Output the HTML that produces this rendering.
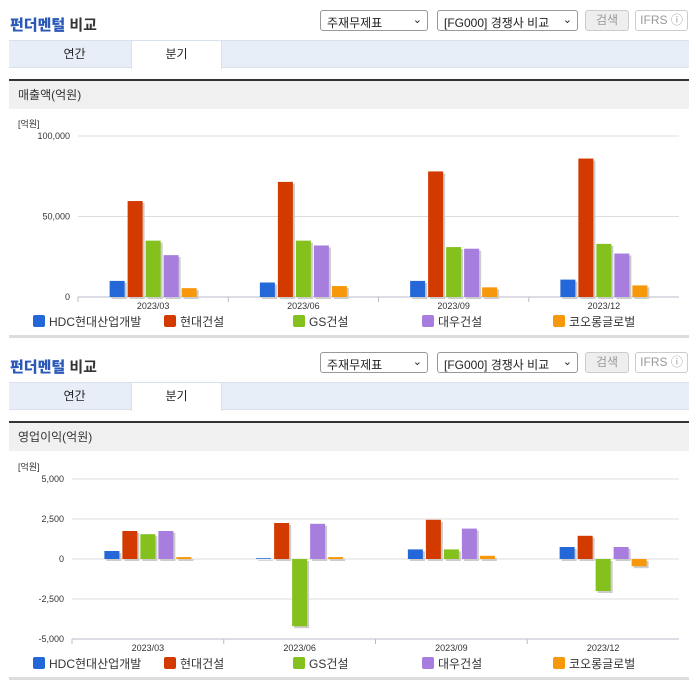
<!DOCTYPE html>
<html><head><meta charset="utf-8">
<style>
body{margin:0;width:696px;height:684px;background:#fff;font-family:"Liberation Sans","Noto Sans CJK KR",sans-serif;overflow:hidden;position:relative}
.abs{position:absolute}
.title{font-size:15px;font-weight:bold;color:#333}
.title b{color:#2a59b8}
.sel{border:1px solid #999;border-radius:3px;height:21px;font-size:12px;color:#222;box-sizing:border-box;padding:3px 6px;background:#fff}
.sel span{position:absolute;right:5px;top:2px;font-size:11px}
.btn{border:1px solid #ccc;border-radius:3px;height:21px;box-sizing:border-box;font-size:12px;color:#999;text-align:center;line-height:19px}
.tabbar{left:9px;width:680px;height:28px;background:#e8eef8;border-top:1px solid #d8e0ec;border-bottom:1px solid #d8e0ec;box-sizing:border-box}
.tab{position:absolute;top:0;height:28px;line-height:26px;font-size:12px;color:#222;text-align:center;width:91px}
.tab.on{background:#fff;border:1px solid #d8e0ec;border-bottom:none;box-sizing:border-box;top:-1px;height:29px}
.hdr{left:9px;width:680px;height:30px;background:#f0f0f0;border-top:2px solid #333;box-sizing:border-box;font-size:12px;color:#333;line-height:28px;padding-left:9px}
.foot{left:9px;width:680px;height:3px;background:#ddd}
svg text{font-family:"Liberation Sans","Noto Sans CJK KR",sans-serif}
</style></head><body>
<div id="sec1"></div>
<div id="sec2"></div>
<svg id="c1" class="abs" style="left:0;top:110px" width="696" height="230"></svg>
<svg id="c2" class="abs" style="left:0;top:452px" width="696" height="232"></svg>
<script>
const categories=["2023/03","2023/06","2023/09","2023/12"];
const seriesNames=["HDC현대산업개발","현대건설","GS건설","대우건설","코오롱글로벌"];
const colors=["#2467d8","#d23a00","#84c11d","#a77ddd","#f6980a"];
const revHDC=[10000,9000,10000,10800];
const revHyundai=[59600,71500,78000,86000];
const revGS=[35000,35000,31000,33000];
const revDaewoo=[26000,32000,30000,27000];
const revKolon=[5500,6800,6000,7200];
const opHDC=[500,50,600,750];
const opHyundai=[1750,2250,2450,1450];
const opGS=[1550,-4200,600,-2000];
const opDaewoo=[1750,2200,1900,750];
const opKolon=[120,120,200,-450];
const revTicks=[0,50000,100000];
const opTicks=[-5000,-2500,0,2500,5000];
const NS="http://www.w3.org/2000/svg";

function header(el,top,label){
  el.innerHTML=`<div class="abs title" style="left:10px;top:${top+14}px"><b>펀더멘털</b> 비교</div>
<div class="abs sel" style="left:320px;top:${top+10}px;width:108px">주재무제표<span>&#x2304;</span></div>
<div class="abs sel" style="left:437px;top:${top+10}px;width:141px">[FG000] 경쟁사 비교<span>&#x2304;</span></div>
<div class="abs btn" style="left:585px;top:${top+10}px;width:44px;background:#eee">검색</div>
<div class="abs btn" style="left:635px;top:${top+10}px;width:53px">IFRS ⓘ</div>
<div class="abs tabbar" style="top:${top+40}px">
<div class="tab" style="left:20px">연간</div>
<div class="tab on" style="left:122px">분기</div></div>
<div class="abs hdr" style="top:${top+79}px">${label}</div>
<div class="abs foot" style="top:${top+335}px"></div>`;
}
header(document.getElementById('sec1'),0,'매출액(억원)');
header(document.getElementById('sec2'),342,'영업이익(억원)');

function mk(svg,tag,attrs,txt){const e=document.createElementNS(NS,tag);for(const k in attrs)e.setAttribute(k,attrs[k]);if(txt!=null)e.textContent=txt;svg.appendChild(e);return e;}

function chart(id,series,ticks,x0,x1,yTop,yBot,legendY){
  const svg=document.getElementById(id);
  const min=ticks[0],max=ticks[ticks.length-1];
  const y=v=>yBot-(v-min)/(max-min)*(yBot-yTop);
  const gw=(x1-x0)/categories.length;
  const xc=i=>x0+gw*(i+0.5);
  let t=mk(svg,'text',{x:18,y:yTop-9,'font-size':9,fill:'#333'},'[억원]');
  
  ticks.forEach(v=>{
    const l=mk(svg,'line',{x1:x0,x2:x1,y1:y(v),y2:y(v),stroke:v===min?'#bbc':'#ddd','stroke-width':1});
    
    const tx=mk(svg,'text',{x:x0-8,y:y(v)+3,'font-size':9,fill:'#333','text-anchor':'end'},v.toLocaleString('en-US'));
    
  });
  categories.forEach((c,i)=>{
    const tk=mk(svg,'line',{x1:x0+gw*i,x2:x0+gw*i,y1:yBot,y2:yBot+5,stroke:'#bbc'});
    
    const tx=mk(svg,'text',{x:xc(i),y:yBot+12,'font-size':9,fill:'#333','text-anchor':'middle'},c);
    
    series.forEach((s,j)=>{
      const bx=xc(i)+(j-2)*18-7.5;
      const v=s[i];const top=Math.min(y(v),y(0)),h=Math.abs(y(v)-y(0));
      const sh=mk(svg,'rect',{x:bx+2,y:top+2,width:15,height:h,fill:'#ccc'});
      
      const r=mk(svg,'rect',{x:bx,y:top,width:15,height:h,fill:colors[j]});
      
    });
  });
  const lx=[33,164,293,422,553];
  seriesNames.forEach((n,j)=>{
    const g=mk(svg,'g',{});
    
    mk(g,'rect',{x:lx[j],y:legendY-6,width:12,height:12,rx:2,fill:colors[j]});
    mk(g,'text',{x:lx[j]+16,y:legendY+5,'font-size':12,fill:'#333'},n);
  });
}
chart('c1',[revHDC,revHyundai,revGS,revDaewoo,revKolon],revTicks,78,679,26,187,211);
chart('c2',[opHDC,opHyundai,opGS,opDaewoo,opKolon],opTicks,72,679,27,187,211);
</script>
</body></html>
